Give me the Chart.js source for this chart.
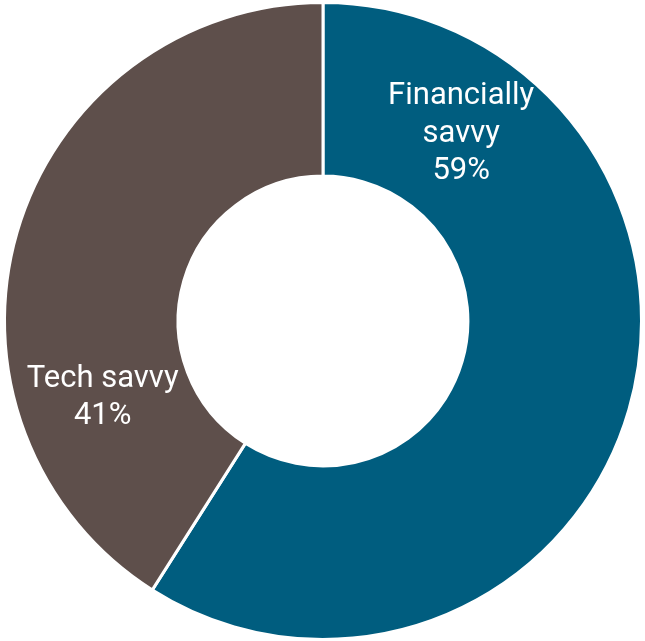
<!doctype html>
<html>
<head>
<meta charset="utf-8">
<title>Financially savvy vs Tech savvy</title>
<style>
  html, body { margin: 0; padding: 0; background: #fff; }
  #wrap { width: 645px; height: 641px; position: relative; }
</style>
</head>
<body>
<div id="wrap"><canvas id="chart"></canvas></div>
<script src="https://cdn.jsdelivr.net/npm/chart.js"></script>
<script>
const categories = ['Financially savvy', 'Tech savvy']
const shares = [59, 41]
const labelLines = [['Financially', 'savvy'], ['Tech savvy']]
const colors = ['#005d7f', '#5e4f4b']

// where each label block's middle baseline sits:
// angle clockwise from 12 o'clock, and share of the outer radius
const labelSpots = [
  { angle: 37.6, r: 0.711 },
  { angle: 249, r: 0.741 },
]

const sliceLabels = {
  id: 'sliceLabels',
  afterDatasetsDraw(chart) {
    const ctx = chart.ctx
    const meta = chart.getDatasetMeta(0)
    ctx.save()
    ctx.fillStyle = '#fff'
    ctx.font = '31px Roboto'
    ctx.textAlign = 'center'
    ctx.textBaseline = 'alphabetic'
    const lh = 37.3
    meta.data.forEach((arc, i) => {
      const spot = labelSpots[i]
      const a = (spot.angle - 90) * Math.PI / 180
      const cx = arc.x + Math.cos(a) * arc.outerRadius * spot.r
      const cy = arc.y + Math.sin(a) * arc.outerRadius * spot.r
      const lines = [...labelLines[i], shares[i] + '%']
      const top = cy - (lines.length - 1) * lh / 2
      lines.forEach((t, j) => ctx.fillText(t, cx, top + j * lh))
    })
    ctx.restore()
  }
}

new Chart(document.getElementById('chart'), {
  type: 'doughnut',
  data: {
    labels: categories,
    datasets: [{
      data: shares,
      backgroundColor: colors,
      borderColor: '#fff',
      borderWidth: 3,
      hoverOffset: 0,
    }]
  },
  options: {
    responsive: true,
    maintainAspectRatio: false,
    animation: false,
    cutout: '45.5%',
    layout: { padding: { top: 1, left: 1, right: 0, bottom: 0 } },
    plugins: {
      legend: { display: false },
      tooltip: { enabled: false },
    }
  },
  plugins: [sliceLabels]
})
</script>
</body>
</html>
